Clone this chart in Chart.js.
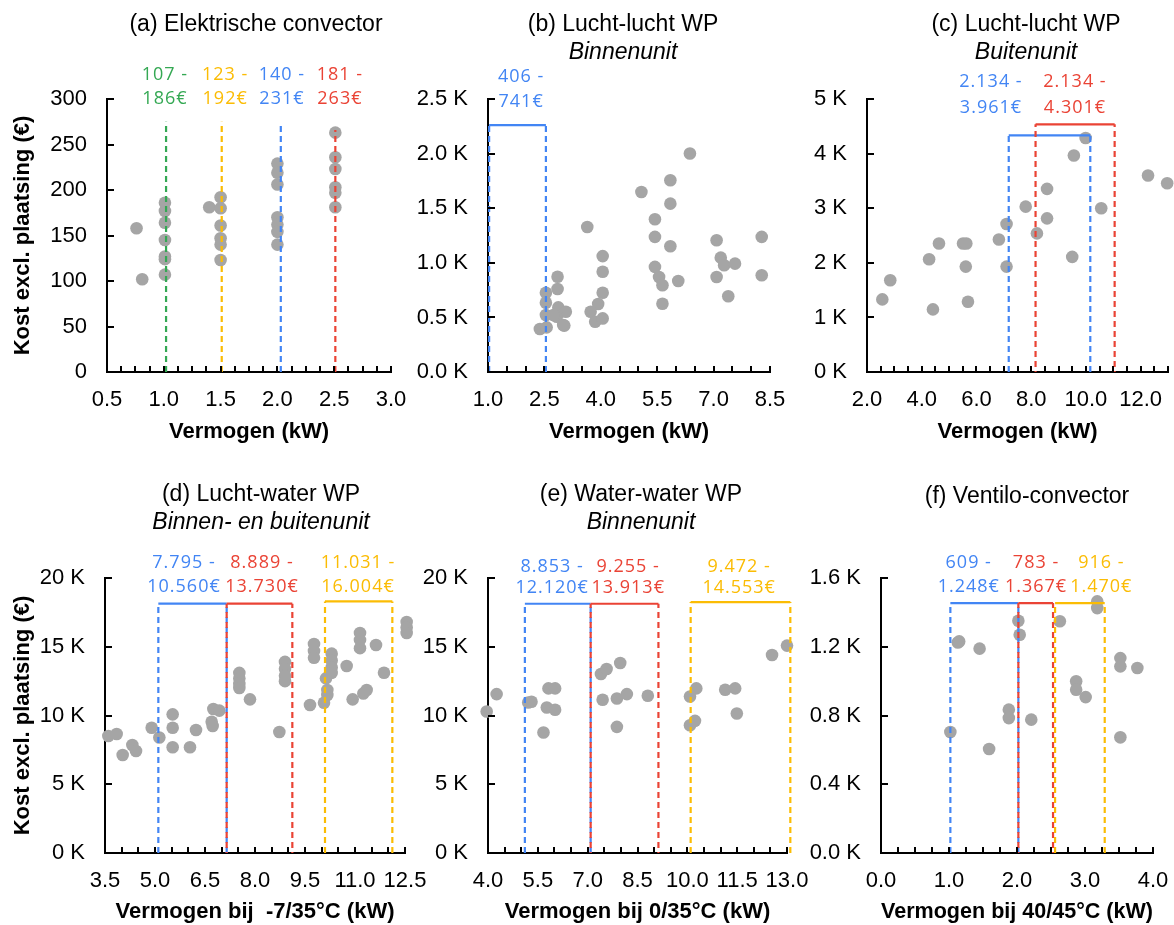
<!DOCTYPE html>
<html><head><meta charset="utf-8">
<script src="https://cdn.jsdelivr.net/npm/chart.js@4.4.0/dist/chart.umd.min.js"></script>
<style>
html,body{margin:0;padding:0;background:#fff;overflow:hidden;}
#wrap{position:relative;width:1174px;height:925px;overflow:hidden;background:#fff;}
#wrap canvas{position:absolute;}
</style></head><body><div id="wrap"></div>
<script>
// ================= DATA =================
// (a) Elektrische convector
const aPower = [0.76,0.81, 1.01,1.01,1.01,1.01,1.01,1.01,1.01, 1.40,1.50,1.50,1.50,1.50,1.50,1.50, 2.00,2.00,2.00,2.00,2.00,2.00,2.00, 2.51,2.51,2.51,2.51,2.51,2.51];
const aCost  = [158,102, 186,177,164,145,127,124,107, 181,192,180,161,147,140,123, 229,219,206,170,162,154,140, 263,236,223,203,197,181];
const aMarkX   = [1.02, 1.51, 2.03, 2.51];
const aMarkTop = [275, 275, 273, 266];
const aRangeFrom = ['107 -','123 -','140 -','181 -'];
const aRangeTo   = ['186€','192€','231€','263€'];
const aXTicks = [0.5,1.0,1.5,2.0,2.5,3.0];
const aXLabels = ['0.5','1.0','1.5','2.0','2.5','3.0'];
const aYTicks = [0,50,100,150,200,250,300];
const aYLabels = ['0','50','100','150','200','250','300'];

// (b) Lucht-lucht WP - Binnenunit
const bPower = [2.38,2.56,2.54,2.54,2.54,2.85,2.85,2.87,3.07,2.83,3.00,2.74,3.03,
                4.05,4.05,4.05,3.93,3.73,3.85,4.05,3.64,
                5.08,5.44,5.44,5.44,5.55,5.64,5.64,5.85,5.85,5.85,6.06,6.37,
                7.08,7.19,7.28,7.57,7.08,7.39,8.28,8.28];
const bCost  = [394,409,522,635,726,873,760,592,552,506,430,522,425,
                1062,919,726,623,552,461,491,1329,
                1650,1400,1238,963,871,795,626,1757,1543,1152,834,2002,
                1207,1048,978,993,871,694,1238,886];
const bBracketLo = [1.03];
const bBracketHi = [2.54];
const bBracketTop = [2262];
const bRangeFrom = ['406 -'];
const bRangeTo = ['741€'];
const bXTicks = [1.0,2.5,4.0,5.5,7.0,8.5];
const bXLabels = ['1.0','2.5','4.0','5.5','7.0','8.5'];
const bYTicks = [0,500,1000,1500,2000,2500];
const bYLabels = ['0.0 K','0.5 K','1.0 K','1.5 K','2.0 K','2.5 K'];

// (c) Lucht-lucht WP - Buitenunit
const cPower = [2.56,2.85,4.27,4.41,4.63,5.51,5.63,5.61,5.69,6.82,7.10,7.10,7.80,8.21,8.58,8.58,9.50,9.56,9.99,10.56,12.27,12.97];
const cCost  = [1331,1681,2067,1147,2356,2356,2356,1932,1288,2429,2712,1932,3031,2540,3356,2816,2110,3969,4288,3000,3601,3460];
const cBracketLo = [7.18, 8.16];
const cBracketHi = [10.16, 11.05];
const cBracketTop = [4337, 4540];
const cRangeFrom = ['2.134 -','2.134 -'];
const cRangeTo = ['3.961€','4.301€'];
const cXTicks = [2,4,6,8,10,12];
const cXLabels = ['2.0','4.0','6.0','8.0','10.0','12.0'];
const cYTicks = [0,1000,2000,3000,4000,5000];
const cYLabels = ['0 K','1 K','2 K','3 K','4 K','5 K'];

// (d) Lucht-water WP - Binnen- en buitenunit
const dPower = [3.60,3.85,4.03,4.32,4.43,4.90,5.13,5.53,5.53,5.53,6.05,6.23,6.70,6.73,6.75,6.93,
                7.53,7.53,7.53,7.53,7.85,8.73,8.90,8.90,8.90,8.90,
                9.77,9.77,9.77,9.65,10.13,10.30,10.30,10.30,10.30,10.17,10.17,10.07,
                10.75,10.93,11.25,11.35,11.15,11.15,11.15,11.63,11.87,12.55,12.55,12.55];
const dCost  = [8509,8655,7127,7855,7418,9106,8400,10085,9106,7687,7687,8945,9545,9237,10473,10352,
                13100,12700,12300,12000,11176,8800,13900,13400,12900,12500,
                15200,14700,14200,10764,12703,14500,14000,13500,13100,11855,11490,10923,
                13600,11176,11600,11855,16000,15500,14900,15127,13113,16800,16400,16000];
const dBracketLo = [5.10, 7.15, 10.10];
const dBracketHi = [7.15, 9.12, 12.12];
const dBracketTop = [18130, 18130, 18300];
const dRangeFrom = ['7.795 -','8.889 -','11.031 -'];
const dRangeTo = ['10.560€','13.730€','16.004€'];
const dXTicks = [3.5,5.0,6.5,8.0,9.5,11.0,12.5];
const dXLabels = ['3.5','5.0','6.5','8.0','9.5','11.0','12.5'];
const dYTicks = [0,5000,10000,15000,20000];
const dYLabels = ['0 K','5 K','10 K','15 K','20 K'];

// (e) Water-water WP - Binnenunit
const ePower = [3.96,4.26,5.21,5.31,5.67,5.77,5.82,6.02,6.02,7.40,7.57,7.98,7.45,7.88,8.18,7.88,8.81,
                10.08,10.27,10.08,10.23,11.14,11.44,11.49,12.55,13.00];
const eCost  = [10292,11557,10949,10997,8759,10584,11971,11971,10414,13017,13382,13820,11144,11241,11557,9173,11435,
                11387,11971,9294,9611,11873,11971,10146,14403,15085];
const eBracketLo = [5.11, 7.09, 10.10];
const eBracketHi = [7.09, 9.13, 13.10];
const eBracketTop = [18126, 18126, 18250];
const eRangeFrom = ['8.853 -','9.255 -','9.472 -'];
const eRangeTo = ['12.120€','13.913€','14.553€'];
const eXTicks = [4.0,5.5,7.0,8.5,10.0,11.5,13.0];
const eXLabels = ['4.0','5.5','7.0','8.5','10.0','11.5','13.0'];
const eYTicks = [0,5000,10000,15000,20000];
const eYLabels = ['0 K','5 K','10 K','15 K','20 K'];

// (f) Ventilo-convector
const fPower = [1.02,1.15,1.13,1.45,1.59,1.88,1.88,2.02,2.04,2.21,2.63,2.87,2.87,3.01,3.18,3.18,3.52,3.52,3.52,3.77];
const fCost  = [704,1231,1225,1189,605,834,785,1351,1270,776,1348,999,950,907,1464,1425,1134,1086,673,1076];
const fBracketLo = [1.02, 2.02, 2.56];
const fBracketHi = [2.02, 2.53, 3.29];
const fBracketTop = [1454, 1454, 1454];
const fRangeFrom = ['609 -','783 -','916 -'];
const fRangeTo = ['1.248€','1.367€','1.470€'];
const fXTicks = [0,1,2,3,4];
const fXLabels = ['0.0','1.0','2.0','3.0','4.0'];
const fYTicks = [0,400,800,1200,1600];
const fYLabels = ['0.0 K','0.4 K','0.8 K','1.2 K','1.6 K'];

// ================= STYLE =================
const FONT = '"Liberation Sans", Arial, sans-serif';
const GRAY = '#A5A5A5';
const BLUE = '#4285F4', RED = '#EA4335', ORANGE = '#FBBC04', GREEN = '#34A853';
const DASH = [6,4];

const innerTicks = {
  id: 'innerTicks',
  afterDraw(chart, args, opts) {
    const {ctx, chartArea} = chart;
    const xs = chart.scales.x, ys = chart.scales.y;
    ctx.save();
    ctx.strokeStyle = '#000'; ctx.lineWidth = 2; ctx.beginPath();
    const n = Math.round((xs.max - xs.min) / opts.minorStep);
    for (let i = 0; i <= n; i++) {
      const px = Math.round(xs.getPixelForValue(xs.min + i * opts.minorStep));
      ctx.moveTo(px, chartArea.bottom); ctx.lineTo(px, chartArea.bottom - 6);
    }
    ys.ticks.forEach(t => {
      const py = Math.round(ys.getPixelForValue(t.value));
      ctx.moveTo(chartArea.left, py); ctx.lineTo(chartArea.left + 7, py);
    });
    ctx.stroke(); ctx.restore();
  }
};

const rangeLabels = {
  id: 'rangeLabels',
  afterDraw(chart, args, opts) {
    const {ctx, chartArea} = chart; const xs = chart.scales.x;
    ctx.save();
    ctx.font = '18px "Open Sans", sans-serif';
    ctx.textAlign = 'center'; ctx.textBaseline = 'middle';
    try { ctx.letterSpacing = '1px'; } catch (e) {}
    (opts.items || []).forEach(it => {
      const px = xs.getPixelForValue(it.x);
      ctx.fillStyle = it.color;
      ctx.fillText(it.l1, px, chartArea.top + opts.dy1);
      ctx.fillText(it.l2, px, chartArea.top + opts.dy2);
    });
    ctx.restore();
  }
};

const wrap = document.getElementById('wrap');

function lineSet(data, color, dash, order, dashOffset) {
  return {data, showLine: true, pointRadius: 0, pointHoverRadius: 0, borderColor: color, backgroundColor: color,
          borderWidth: 2.2, borderDash: dash, borderDashOffset: dashOffset || 0, order, clip: false, tension: 0};
}

function bracketSets(lo, hi, top, colors, orders) {
  const out = [];
  lo.forEach((l, i) => {
    const off = colors[i] === RED ? 5 : 0;
    out.push(lineSet([{x: l, y: 0}, {x: l, y: top[i]}], colors[i], DASH, orders[i], off));
    out.push(lineSet([{x: hi[i], y: 0}, {x: hi[i], y: top[i]}], colors[i], DASH, orders[i], off));
    out.push(lineSet([{x: l, y: top[i]}, {x: hi[i], y: top[i]}], colors[i], [], orders[i]));
  });
  return out;
}

function makePanel(p) {
  const cv = document.createElement('canvas');
  cv.width = p.box.w; cv.height = p.box.h;
  cv.style.left = p.box.l + 'px'; cv.style.top = p.box.t + 'px';
  cv.style.width = p.box.w + 'px'; cv.style.height = p.box.h + 'px';
  wrap.appendChild(cv);
  const datasets = [{
    data: p.xs.map((x, i) => ({x, y: p.ys[i]})),
    pointRadius: 6.3, pointHoverRadius: 6.3, pointBackgroundColor: GRAY, pointBorderWidth: 0,
    showLine: false, order: 10, clip: false
  }].concat(p.lines);
  const tickFont = {family: FONT, size: 22};
  new Chart(cv, {
    type: 'scatter',
    data: {datasets},
    plugins: [innerTicks, rangeLabels],
    options: {
      responsive: false, animation: false, events: [],
      layout: {padding: 0},
      plugins: {
        legend: {display: false}, tooltip: {enabled: false},
        title: {display: true, text: p.title, color: '#000', font: {family: FONT, size: 23, weight: 'normal'}, padding: p.titlePad},
        subtitle: {display: !!p.subtitle, text: p.subtitle || '', color: '#000', font: {family: FONT, size: 23, style: 'italic'}, padding: p.subPad || 0},
        innerTicks: {minorStep: p.minorStep},
        rangeLabels: {items: p.labels, dy1: p.dy[0], dy2: p.dy[1]}
      },
      scales: {
        x: {
          type: 'linear', position: 'bottom', min: p.xr[0], max: p.xr[1],
          afterBuildTicks: s => { s.ticks = p.xTicks.map(v => ({value: v})); },
          afterFit: s => { s.height = p.xH; },
          grid: {display: false, drawTicks: false},
          border: {display: true, color: '#000', width: 2},
          ticks: {font: tickFont, color: '#000', padding: 15, maxRotation: 0, autoSkip: false, callback: (v, i) => p.xLabels[i]},
          title: {display: true, text: p.xTitle, color: '#000', font: {family: FONT, size: 22, weight: 'bold'}, padding: {top: 0, bottom: 0}}
        },
        y: {
          type: 'linear', position: 'left', min: p.yr[0], max: p.yr[1],
          afterBuildTicks: s => { s.ticks = p.yTicks.map(v => ({value: v})); },
          afterFit: s => { s.width = p.yW; },
          grid: {display: false, drawTicks: false},
          border: {display: true, color: '#000', width: 2},
          ticks: {font: tickFont, color: '#000', padding: 20, autoSkip: false, callback: (v, i) => p.yLabels[i]},
          title: {display: !!p.yTitle, text: p.yTitle || '', color: '#000', font: {family: FONT, size: 22, weight: 'bold'}, padding: {top: 10, bottom: 0}}
        },
        pad: {
          type: 'linear', position: 'right', min: 0, max: 1, display: true,
          grid: {display: false, drawTicks: false}, border: {display: false}, ticks: {display: false},
          afterFit: s => { s.width = p.rW; }
        }
      }
    }
  });
}

const YTITLE = 'Kost excl. plaatsing (€)';

// (a)
makePanel({
  box: {l: 0, t: 0, w: 512, h: 445}, yW: 107, rW: 121, xH: 73,
  xs: aPower, ys: aCost, xr: [0.5, 3.0], yr: [0, 300],
  xTicks: aXTicks, xLabels: aXLabels, yTicks: aYTicks, yLabels: aYLabels, minorStep: 0.125,
  title: '(a) Elektrische convector', titlePad: {top: 11, bottom: 60.4},
  xTitle: 'Vermogen (kW)', yTitle: YTITLE,
  lines: aMarkX.map((x, i) => lineSet([{x, y: 0}, {x, y: aMarkTop[i]}], [GREEN, ORANGE, BLUE, RED][i], DASH, 1)),
  labels: [1.01, 1.54, 2.04, 2.55].map((x, i) => ({x, l1: aRangeFrom[i], l2: aRangeTo[i], color: [GREEN, ORANGE, BLUE, RED][i]})),
  dy: [-24, 0]
});

// (b)
makePanel({
  box: {l: 410, t: 0, w: 426, h: 445}, yW: 78, rW: 66, xH: 73,
  xs: bPower, ys: bCost, xr: [1.0, 8.5], yr: [0, 2500],
  xTicks: bXTicks, xLabels: bXLabels, yTicks: bYTicks, yLabels: bYLabels, minorStep: 0.5,
  title: '(b) Lucht-lucht WP', titlePad: {top: 11, bottom: 0}, subtitle: 'Binnenunit', subPad: {top: 0, bottom: 33},
  xTitle: 'Vermogen (kW)',
  lines: bracketSets(bBracketLo, bBracketHi, bBracketTop, [BLUE], [3]),
  labels: [1.88].map((x, i) => ({x, l1: bRangeFrom[i], l2: bRangeTo[i], color: BLUE})),
  dy: [-22, 3]
});

// (c)
makePanel({
  box: {l: 805, t: 0, w: 442, h: 445}, yW: 62, rW: 79, xH: 73,
  xs: cPower, ys: cCost, xr: [2, 13], yr: [0, 5000],
  xTicks: cXTicks, xLabels: cXLabels, yTicks: cYTicks, yLabels: cYLabels, minorStep: 0.5,
  title: '(c) Lucht-lucht WP', titlePad: {top: 11, bottom: 0}, subtitle: 'Buitenunit', subPad: {top: 0, bottom: 33},
  xTitle: 'Vermogen (kW)',
  lines: bracketSets(cBracketLo, cBracketHi, cBracketTop, [BLUE, RED], [3, 2]),
  labels: [6.53, 9.6].map((x, i) => ({x, l1: cRangeFrom[i], l2: cRangeTo[i], color: [BLUE, RED][i]})),
  dy: [-17, 9]
});

// (d)
makePanel({
  box: {l: 0, t: 460, w: 522, h: 465}, yW: 105, rW: 117, xH: 72,
  xs: dPower, ys: dCost, xr: [3.5, 12.5], yr: [0, 20000],
  xTicks: dXTicks, xLabels: dXLabels, yTicks: dYTicks, yLabels: dYLabels, minorStep: 0.5,
  title: '(d) Lucht-water WP', titlePad: {top: 21, bottom: 0}, subtitle: 'Binnen- en buitenunit', subPad: {top: 0, bottom: 41.8},
  xTitle: 'Vermogen bij  -7/35°C (kW)', yTitle: YTITLE,
  lines: bracketSets(dBracketLo, dBracketHi, dBracketTop, [BLUE, RED, ORANGE], [3, 2, 1]),
  labels: [5.87, 8.21, 11.09].map((x, i) => ({x, l1: dRangeFrom[i], l2: dRangeTo[i], color: [BLUE, RED, ORANGE][i]})),
  dy: [-15, 9]
});

// (e)
makePanel({
  box: {l: 415, t: 460, w: 452, h: 465}, yW: 73, rW: 80, xH: 72,
  xs: ePower, ys: eCost, xr: [4, 13], yr: [0, 20000],
  xTicks: eXTicks, xLabels: eXLabels, yTicks: eYTicks, yLabels: eYLabels, minorStep: 0.5,
  title: '(e) Water-water WP', titlePad: {top: 21, bottom: 0}, subtitle: 'Binnenunit', subPad: {top: 0, bottom: 41.8},
  xTitle: 'Vermogen bij 0/35°C (kW)',
  lines: bracketSets(eBracketLo, eBracketHi, eBracketTop, [BLUE, RED, ORANGE], [3, 2, 1]),
  labels: [5.93, 8.22, 11.56].map((x, i) => ({x, l1: eRangeFrom[i], l2: eRangeTo[i], color: [BLUE, RED, ORANGE][i]})),
  dy: [-11, 10]
});

// (f)
makePanel({
  box: {l: 805, t: 460, w: 444, h: 465}, yW: 76, rW: 96, xH: 72,
  xs: fPower, ys: fCost, xr: [0, 4], yr: [0, 1600],
  xTicks: fXTicks, xLabels: fXLabels, yTicks: fYTicks, yLabels: fYLabels, minorStep: 0.25,
  title: '(f) Ventilo-convector', titlePad: {top: 23, bottom: 67.4},
  xTitle: 'Vermogen bij 40/45°C (kW)',
  lines: bracketSets(fBracketLo, fBracketHi, fBracketTop, [BLUE, RED, ORANGE], [3, 2, 1]),
  labels: [1.29, 2.28, 3.24].map((x, i) => ({x, l1: fRangeFrom[i], l2: fRangeTo[i], color: [BLUE, RED, ORANGE][i]})),
  dy: [-15, 9]
});
</script>
</body></html>
